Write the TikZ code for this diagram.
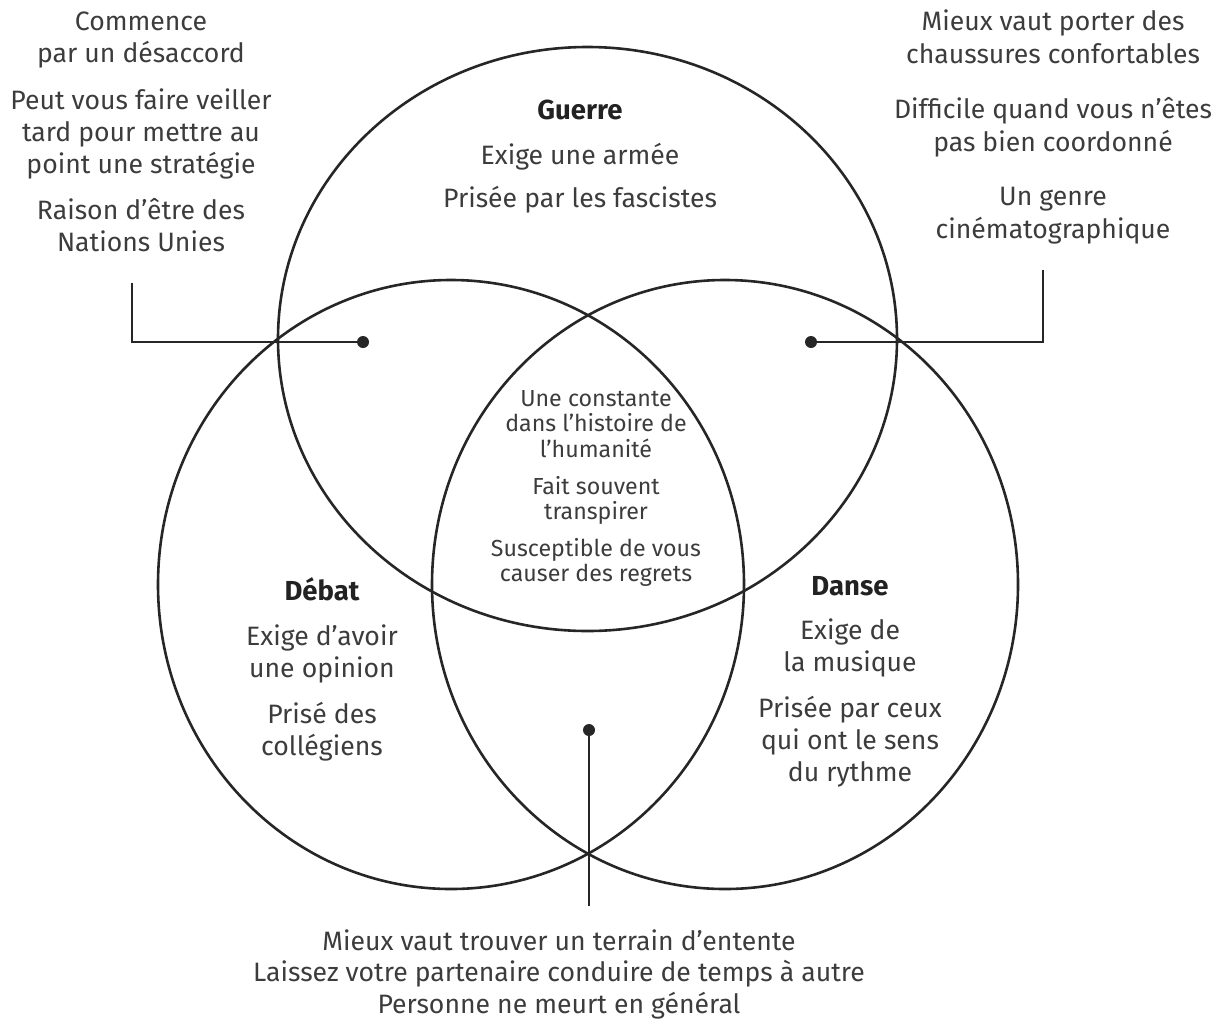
\documentclass[tikz,border=0pt]{standalone}
\usepackage{fontspec}
\setmainfont{Fira Sans}
\usetikzlibrary{shapes.geometric}
\definecolor{linecol}{HTML}{262626}
\definecolor{textgray}{HTML}{3C3C3C}
\definecolor{headcol}{HTML}{222222}
\begin{document}
\begin{tikzpicture}[x=1pt,y=-1pt,
  txt/.style={anchor=base, inner sep=0pt, font=\fontsize{26.6}{30}\selectfont, text=textgray},
  head/.style={anchor=base, inner sep=0pt, font=\fontsize{27.5}{30}\selectfont\bfseries, text=headcol},
  smalltxt/.style={anchor=base, inner sep=0pt, font=\fontsize{23.2}{24}\selectfont, text=textgray},
  ring/.style={ellipse, draw=linecol, line width=2.6pt, inner sep=0pt},
  lead/.style={draw=linecol, line width=2.6pt},
  dot/.style={circle, fill=linecol, inner sep=0pt, minimum size=12pt}]
\useasboundingbox (0,0) rectangle (1225,1021);

% circles
\node[ring, minimum width=619pt, minimum height=584pt] (cg) at (587.5,339) {};
\node[ring, minimum width=586pt, minimum height=609pt] (cd) at (451,584.5) {};
\node[ring, minimum width=586pt, minimum height=609pt] (cs) at (725,584.5) {};

% dots and leaders
\node[dot] (dl) at (363,342) {};
\node[dot] (dr) at (811,342) {};
\node[dot] (db) at (589,730) {};
\coordinate (lk) at (132,283);
\coordinate (rk) at (1043,270);
\coordinate (bk) at (589,906);
\draw[lead] (lk) |- (dl.center);
\draw[lead] (rk) |- (dr.center);
\draw[lead] (db.center) -- (bk);

% top-left texts
\node[txt] (tl1) at (141,30) {Commence};
\node[txt] (tl2) at (141,62) {par un désaccord};
\node[txt] (tl3) at (141,109) {Peut vous faire veiller};
\node[txt] (tl4) at (141,141) {tard pour mettre au};
\node[txt] (tl5) at (141,173) {point une stratégie};
\node[txt] (tl6) at (141,219) {Raison d’être des};
\node[txt] (tl7) at (141,251) {Nations Unies};

% top-right texts
\node[txt] (tr1) at (1053,30) {Mieux vaut porter des};
\node[txt] (tr2) at (1053,63) {chaussures confortables};
\node[txt] (tr3) at (1053,118) {Difficile quand vous n’êtes};
\node[txt] (tr4) at (1053,151) {pas bien coordonné};
\node[txt] (tr5) at (1053,205) {Un genre};
\node[txt] (tr6) at (1053,238) {cinématographique};

% Guerre
\node[head] (gh) at (580,119) {Guerre};
\node[txt] (g1) at (580,164) {Exige une armée};
\node[txt] (g2) at (580,207) {Prisée par les fascistes};

% centre
\node[smalltxt] (c1) at (596,406) {Une constante};
\node[smalltxt] (c2) at (596,431) {dans l’histoire de};
\node[smalltxt] (c3) at (596,457) {l’humanité};
\node[smalltxt] (c4) at (596,494) {Fait souvent};
\node[smalltxt] (c5) at (596,519) {transpirer};
\node[smalltxt] (c6) at (596,556) {Susceptible de vous};
\node[smalltxt] (c7) at (596,581) {causer des regrets};

% Débat
\node[head] (dh) at (322,600) {Débat};
\node[txt] (d1) at (322,645) {Exige d’avoir};
\node[txt] (d2) at (322,677) {une opinion};
\node[txt] (d3) at (322,723) {Prisé des};
\node[txt] (d4) at (322,755) {collégiens};

% Danse
\node[head] (sh) at (850,595) {Danse};
\node[txt] (s1) at (850,639) {Exige de};
\node[txt] (s2) at (850,671) {la musique};
\node[txt] (s3) at (850,717) {Prisée par ceux};
\node[txt] (s4) at (850,749) {qui ont le sens};
\node[txt] (s5) at (850,781) {du rythme};

% bottom
\node[txt] (b1) at (559,950) {Mieux vaut trouver un terrain d’entente};
\node[txt] (b2) at (559,981) {Laissez votre partenaire conduire de temps à autre};
\node[txt] (b3) at (559,1013) {Personne ne meurt en général};
\end{tikzpicture}
\end{document}
